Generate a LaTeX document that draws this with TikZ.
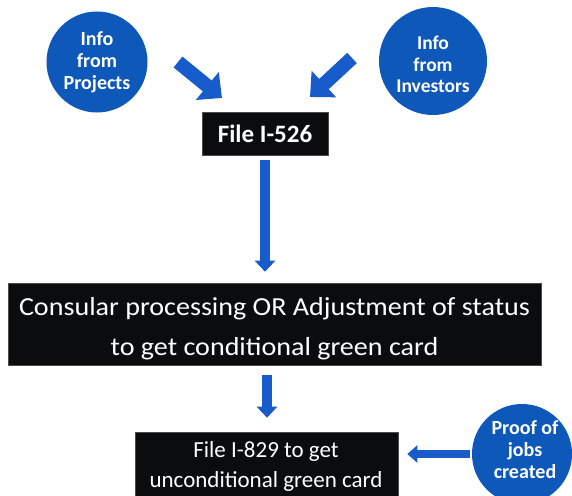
\documentclass[tikz,border=0pt]{standalone}
\usepackage{fontspec}
\setmainfont{Carlito}
\newfontfamily\widefont[FakeStretch=1.08]{Carlito}
\usetikzlibrary{arrows.meta}
\definecolor{discblue}{RGB}{14,88,186}
\definecolor{arrowblue}{RGB}{24,92,204}
\definecolor{boxblack}{RGB}{10,12,14}
\tikzset{
  disc/.style={circle, fill=discblue, text=white, align=center, inner sep=0pt,
    font=\bfseries\fontsize{20}{22}\selectfont},
  disctext/.style={text=white, align=center, inner sep=0pt,
    font=\bfseries\fontsize{20}{22}\selectfont},
  stepbox/.style={rectangle, fill=boxblack, draw=black!70, line width=0.6pt, text=white, align=center, inner sep=0pt},
  boxtext/.style={text=white, align=center, inner sep=0pt},
  fatarrow/.style={draw=arrowblue, line width=14pt,
    -{Triangle[width=35pt,length=19pt]}},
  downarrow/.style={draw=arrowblue, line width=9.5pt,
    -{Triangle[width=20pt,length=11pt]}},
  sidearrow/.style={draw=arrowblue, line width=8pt,
    -{Triangle[width=17pt,length=10pt]}},
}
\begin{document}
\begin{tikzpicture}[x=1pt,y=-1pt]
\clip (0,0) rectangle (572,495);
\fill[white] (0,0) rectangle (572,495);

% sources of information
\node[disc, minimum size=101pt] (proj) at (97,62) {Info\\from\\Projects};
\node[disc, minimum size=108pt] (inv) at (433,61) {};
\node[disctext, font=\bfseries\fontsize{19.5}{21.5}\selectfont] (invtext) at (433,64.5) {Info\\from\\Investors};
\node[disc, minimum size=100pt] (proof) at (522,454) {};
\node[disctext] (prooftext) at (525,449.5) {Proof of\\jobs\\created};

% process steps
\node[stepbox, minimum width=126pt, minimum height=43pt,
  font=\bfseries\fontsize{25}{28}\selectfont] (i526) at (265,133.5) {File I-526};
\node[stepbox, minimum width=533pt, minimum height=82pt] (cons) at (274.5,324) {};
\node[boxtext, font=\widefont\fontsize{26}{40}\selectfont] (constext) at (274.5,329)
  {Consular processing OR Adjustment of status\\to get conditional green card};
\node[stepbox, minimum width=263pt, minimum height=73pt] (i829) at (266.5,468.5) {};
\node[boxtext, font=\fontsize{23}{30}\selectfont]
  (i829text) at (266,466) {File I-829 to get\\unconditional green card};

% ends of the slanted arrows
\coordinate (pa) at (178,62);
\coordinate (pb) at (222,98);
\coordinate (ia) at (352,58);
\coordinate (ib) at (310,97);

% connectors
\draw[fatarrow] (pa) -- (pb);
\draw[fatarrow] (ia) -- (ib);
\draw[downarrow, shorten <=5pt, shorten >=11pt] (i526.south) -- (i526.south |- cons.north);
\draw[downarrow, shorten <=10pt, shorten >=14pt] ([xshift=-7.5pt]cons.south) -- ([xshift=-7.5pt]cons.south |- i829.north);
\draw[sidearrow, shorten <=2pt, shorten >=9pt] (proof.west) -- (proof.west -| i829.east);
\end{tikzpicture}
\end{document}
